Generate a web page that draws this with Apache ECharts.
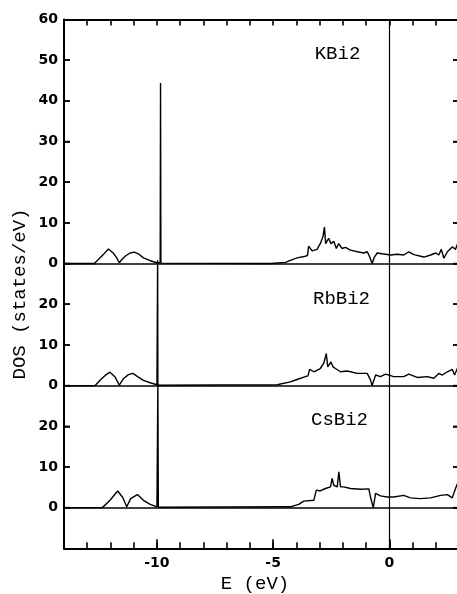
<!DOCTYPE html>
<html><head><meta charset="utf-8">
<script src="https://cdn.jsdelivr.net/npm/echarts@6/dist/echarts.min.js"></script>
<style>html,body{margin:0;padding:0;background:#fff}#c{width:457px;height:594px}</style>
</head><body><div id="c"></div>
<script>
// Panel names and vertical offsets (in stacked DOS units)
var panelNames = ['KBi2', 'RbBi2', 'CsBi2'];
var panelOffsets = [60, 30, 0];

// KBi2 DOS
var kbi2E = [-14, -12.7, -12.66, -12.52, -12.31, -12.09, -11.88, -11.73, -11.62, -11.51, -11.37, -11.16, -10.97, -10.8, -10.58, -10.29, -10.0, -9.86, -9.845, -9.83, -9.8,
  -5.12, -4.47, -4.26, -3.97, -3.61, -3.52, -3.47, -3.32, -3.11, -2.97, -2.85, -2.79, -2.74, -2.61, -2.51, -2.39, -2.28, -2.18, -2.03, -1.89, -1.67, -1.38, -1.1, -0.95, -0.84, -0.74, -0.64, -0.52, -0.31, 0.05, 0.34, 0.62, 0.84, 1.06, 1.49, 1.78, 2.0, 2.13, 2.24, 2.35, 2.5, 2.71, 2.85, 2.94];
var kbi2Dos = [0, 0, 0.2, 1.0, 2.2, 3.6, 2.6, 1.4, 0.2, 1.0, 1.8, 2.6, 2.8, 2.4, 1.4, 0.7, 0.2, 0.2, 44.4, 0.1, 0,
  0, 0.3, 0.8, 1.4, 1.8, 2.0, 4.3, 3.1, 3.5, 4.9, 6.7, 9.0, 4.9, 6.2, 4.9, 5.5, 3.7, 4.9, 3.7, 4.0, 3.3, 2.9, 2.6, 2.9, 1.6, 0.0, 1.6, 2.6, 2.4, 2.1, 2.3, 2.1, 2.9, 2.2, 1.6, 2.1, 2.6, 2.1, 3.5, 1.3, 2.9, 4.1, 3.5, 4.9];

// RbBi2 DOS
var rbbi2E = [-14, -12.66, -12.45, -12.23, -12.02, -11.8, -11.62, -11.44, -11.23, -11.04, -10.8, -10.58, -10.29, -10.0, -9.98, -9.97, -9.96, -9.9,
  -4.83, -4.26, -3.97, -3.61, -3.5, -3.43, -3.25, -2.97, -2.82, -2.71, -2.65, -2.51, -2.42, -2.32, -2.1, -1.81, -1.38, -0.95, -0.81, -0.74, -0.59, -0.38, -0.16, 0.19, 0.62, 0.84, 1.2, 1.63, 1.92, 2.13, 2.28, 2.5, 2.71, 2.81, 2.94];
var rbbi2Dos = [0, 0, 1.3, 2.5, 3.3, 2.1, 0.1, 1.7, 2.7, 3.0, 2.1, 1.3, 0.7, 0.2, 0.2, 30.8, 0.1, 0,
  0.2, 0.9, 1.5, 2.2, 2.4, 4.0, 3.4, 4.2, 5.5, 7.9, 4.6, 5.8, 4.6, 4.2, 3.4, 3.6, 3.0, 3.0, 1.4, 0, 2.6, 2.2, 2.8, 2.2, 2.2, 2.8, 2.0, 2.2, 1.8, 3.0, 2.6, 3.4, 4.0, 2.6, 4.4];

// CsBi2 DOS
var csbi2E = [-14, -12.35, -12.31, -12.02, -11.69, -11.47, -11.3, -11.13, -10.84, -10.58, -10.29, -10.0, -9.97, -9.96, -9.95, -9.94, -9.9,
  -4.26, -3.9, -3.68, -3.25, -3.14, -2.97, -2.75, -2.53, -2.46, -2.39, -2.24, -2.17, -2.1, -1.96, -1.67, -1.24, -0.88, -0.81, -0.69, -0.59, -0.38, -0.09, 0.19, 0.62, 0.91, 1.34, 1.78, 2.21, 2.5, 2.71, 2.85, 2.94];
var csbi2Dos = [0, 0, 0.2, 1.8, 4.1, 2.5, 0.2, 2.2, 3.2, 1.8, 0.8, 0.2, 0.2, 30.5, 30.5, 0.1, 0,
  0.2, 0.8, 1.6, 1.8, 4.3, 4.1, 4.7, 5.1, 7.2, 5.5, 5.1, 8.8, 5.1, 5.1, 4.7, 4.5, 4.6, 2.6, 0, 3.5, 2.9, 2.6, 2.6, 3.0, 2.4, 2.2, 2.4, 3.0, 3.2, 2.4, 4.7, 6.0];

// Axis settings
var xMin = -14, xMax = 3;
var yMin = -10, yMax = 120;
var xLabelValues = [-10, -5, 0];
var yTickValues = [0, 10, 20, 30, 40, 50, 60, 70, 80, 90, 100, 110];

var panels = [[kbi2E, kbi2Dos], [rbbi2E, rbbi2Dos], [csbi2E, csbi2Dos]];

var chart = echarts.init(document.getElementById('c'));
var black = '#000';

var series = panels.map(function (p, i) {
  var off = panelOffsets[i];
  var data = p[0].map(function (e, j) { return [e, p[1][j] + off]; });
  var s = {
    type: 'line', name: panelNames[i], xAxisIndex: 0, yAxisIndex: 0,
    data: data, symbol: 'none',
    lineStyle: {color: black, width: 1.4},
    markLine: {
      symbol: 'none', label: {show: false},
      lineStyle: {color: black, width: 1.5, type: 'solid'},
      data: [{yAxis: off}]
    }
  };
  if (i === 0) {
    s.markLine.data.push({xAxis: 0, lineStyle: {width: 1.2}});
  }
  return s;
});

// Inward tick marks on the left and right frame edges, placed through the axes' scales
series.push({
  type: 'scatter', xAxisIndex: 0, yAxisIndex: 0, silent: true, clip: false,
  symbol: 'rect', symbolSize: [6, 1.6], symbolOffset: [3, 0],
  itemStyle: {color: black},
  data: yTickValues.map(function (v) { return [xMin, v]; }), z: 5
});
series.push({
  type: 'scatter', xAxisIndex: 0, yAxisIndex: 0, silent: true, clip: false,
  symbol: 'rect', symbolSize: [6, 1.6], symbolOffset: [-3, 0],
  itemStyle: {color: black},
  data: yTickValues.map(function (v) { return [xMax, v]; }), z: 5
});

function axis(pos, min, max, extra) {
  var a = {type: 'value', gridIndex: 0, min: min, max: max, position: pos,
    axisLine: {show: true, onZero: false, lineStyle: {color: black, width: 2}},
    axisTick: {show: true, inside: true, length: 6, lineStyle: {color: black, width: 1.6}},
    axisLabel: {show: false},
    splitLine: {show: false}};
  return Object.assign(a, extra || {});
}

var option = {
  animation: false,
  backgroundColor: '#fff',
  grid: [{left: 64, top: 19.5, right: -2, bottom: 45.7, outerBoundsMode: 'none'}],
  xAxis: [
    axis('bottom', xMin, xMax, {interval: 1,
      axisLabel: {show: true, margin: 8, color: black, fontFamily: 'DejaVu Sans', fontWeight: 'bold', fontSize: 14,
        formatter: function (v) { return xLabelValues.indexOf(v) >= 0 ? String(v) : ''; }}}),
    axis('top', xMin, xMax, {interval: 1}),
    axis('bottom', xMin, xMax, {axisLine: {show: false, onZero: false},
      axisTick: {show: true, inside: true, length: 9, customValues: xLabelValues, lineStyle: {color: black, width: 1.6}}})
  ],
  yAxis: [
    axis('left', yMin, yMax, {interval: 10,
      axisLabel: {show: true, margin: 6, color: black, fontFamily: 'DejaVu Sans', fontWeight: 'bold', fontSize: 14,
        formatter: function (v) {
          if (v < 0) return '';
          return String(v >= 60 ? v - 60 : (v >= 30 ? v - 30 : v));
        }}}),
    axis('right', yMin, yMax, {interval: 10})
  ],
  series: series,
  graphic: [
    {type: 'text', x: 337.5, y: 54, style: {text: panelNames[0], font: '19px "Liberation Mono"', fill: black, textAlign: 'center', textVerticalAlign: 'middle'}},
    {type: 'text', x: 341.5, y: 299, style: {text: panelNames[1], font: '19px "Liberation Mono"', fill: black, textAlign: 'center', textVerticalAlign: 'middle'}},
    {type: 'text', x: 339.5, y: 420, style: {text: panelNames[2], font: '19px "Liberation Mono"', fill: black, textAlign: 'center', textVerticalAlign: 'middle'}},
    {type: 'text', x: 20, y: 294, rotation: Math.PI / 2, style: {text: 'DOS (states/eV)', font: '19px "Liberation Mono"', fill: black, textAlign: 'center', textVerticalAlign: 'middle'}},
    {type: 'text', x: 255, y: 584, style: {text: 'E (eV)', font: '19px "Liberation Mono"', fill: black, textAlign: 'center', textVerticalAlign: 'middle'}}
  ]
};
chart.setOption(option);
</script>
</body></html>
